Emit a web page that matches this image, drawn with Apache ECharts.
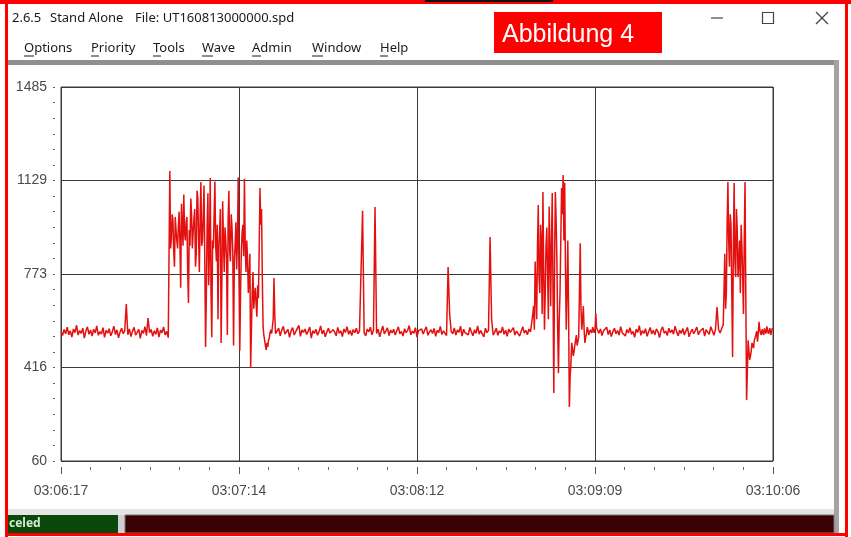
<!DOCTYPE html>
<html>
<head>
<meta charset="utf-8">
<title>Stand Alone - UT160813000000.spd</title>
<script src="https://cdn.jsdelivr.net/npm/echarts@6/dist/echarts.min.js"></script>
<style>
  html, body { margin: 0; padding: 0; background: #ffffff; }
  #main { width: 851px; height: 537px; }
</style>
</head>
<body>
<div id="main"></div>
<script>
// Recording window: 03:06:17 .. 03:10:06
const startSeconds = 3 * 3600 + 6 * 60 + 17;
const endSeconds = 3 * 3600 + 10 * 60 + 6;

const xTickLabels = ['03:06:17', '03:07:14', '03:08:12', '03:09:09', '03:10:06'];
const yTickLabels = ['60', '416', '773', '1129', '1485'];
const yMin = 60;
const yMax = 1485;

// Quiet stretches are logged every 0.5 s, bursts every 0.25 s
const quiet1 = [
  552, 538, 561, 545, 570, 541, 556, 532, 563, 549, 578, 540, 557, 546, 566, 528, 555, 571, 543, 559,
  536, 562, 548, 575, 539, 553, 544, 568, 531, 558, 547, 564, 537, 552, 574, 542, 560, 529, 551, 566,
  545, 557, 658, 541, 563, 534, 555, 569, 540, 550, 562, 527, 558, 546, 572, 538, 605, 549, 561, 535,
  556, 543, 567, 532, 559, 548, 571, 540, 554, 530
];
const burst1 = [
  1165, 870, 905, 1000, 980, 860, 800, 990, 940, 900, 870, 960, 1010, 890, 720, 1040, 960, 880, 1075, 930,
  900, 970, 990, 780, 662, 940, 880, 1060, 1000, 870, 930, 980, 1020, 800, 850, 1090, 1062, 910, 780, 990,
  1123, 880, 900, 1000, 1110, 820, 494, 700, 960, 1080, 730, 860, 1138, 700, 532, 900, 870, 1000, 1125, 880,
  820, 960, 600, 880, 930, 1020, 510, 760, 1050, 900, 780, 950, 900, 830, 540, 980, 1090, 860, 820, 1000,
  950, 860, 500, 820, 880, 970, 790, 900, 1140, 760, 480, 700, 860, 930, 960, 840, 1135, 880, 780, 900,
  830, 700, 760, 850, 414, 560, 700, 780, 640, 690, 720, 660, 610, 730, 680, 880, 1100, 960, 1020, 760,
  570, 540, 520, 500, 483, 510, 495, 520, 530, 550, 560, 545, 540, 600, 757, 620, 545
];
const quiet2 = [
  552, 566, 537, 558, 573, 544, 549, 561, 531, 556, 568, 540, 553, 547, 577, 535, 559, 550, 563, 542,
  555, 570, 528, 557, 546, 562, 539, 553, 575, 544, 558, 533, 551, 566, 548, 541, 560, 552, 537, 569,
  547, 556, 534, 563, 550, 572, 543, 557, 538, 561, 549, 566, 545, 555, 560, 1013, 548, 537, 563, 552,
  570, 541, 558, 1028, 546, 562, 533, 555, 574, 544, 551, 567, 538, 559, 548, 562, 540, 556, 571, 545,
  553, 536, 564, 549, 558, 576, 541, 555, 547, 568, 532, 557, 550, 563, 544, 559, 571, 539, 552, 560,
  546, 565, 535, 558, 549, 573, 542, 556, 561, 538, 799, 620, 553, 545, 567, 540, 559, 550, 574, 536,
  562, 548, 555, 541, 569, 552, 537, 560, 546, 575, 543, 557, 551, 533, 566, 549, 558, 913, 600, 540,
  551, 566, 539, 556, 548, 571, 543, 558, 535, 563, 550, 545, 568, 540, 555, 561, 536, 553, 572, 547,
  558, 541, 563, 552
];
const burst2 = [
  597, 620, 650, 560, 820, 700, 600, 880, 1035, 760, 700, 960, 900, 620, 1085, 800, 560, 700, 880, 950,
  780, 600, 1030, 880, 650, 900, 1081, 700, 319, 820, 1085, 980, 820, 560, 395, 600, 700, 900, 1100, 1000,
  1150, 900, 1120, 800, 560, 700, 900, 640, 266, 380, 430, 510, 490, 460, 475, 500, 520, 540, 500, 515,
  530, 700, 890, 640, 560, 600, 650, 560, 510, 530, 545, 570, 560, 540, 535, 560, 555, 548, 570, 560,
  548, 560, 624, 570, 560
];
const quiet3 = [
  547, 563, 538, 556, 551, 570, 542, 559, 534, 553, 566, 545, 557, 540, 572, 549, 555, 536, 561, 548,
  568, 543, 554, 531, 562, 550, 576, 539, 557, 546, 564, 535, 552, 569, 544, 558, 541, 563, 553, 530,
  559, 571, 547, 555, 538, 566, 549, 560, 543, 574, 552, 537, 558, 546, 565, 540, 556, 569, 533, 551,
  562, 545, 557, 570, 541, 554, 548, 566, 536, 560, 551, 543, 572, 555, 539, 561,
  647, 560, 548, 565, 580
];
const burst3 = [
  850, 640, 700, 960, 1123, 900, 800, 1000, 960, 700, 456, 880, 1119, 820, 760, 1020, 940, 760, 820, 900,
  700, 960, 880, 760, 620, 900, 1123, 700, 292, 400, 520, 480, 445, 460, 480, 510, 505, 490, 520, 530,
  540, 555, 515, 545, 590, 560, 548, 540, 562, 550, 540, 565, 558, 545, 573, 560, 545, 555, 566, 540,
  551, 565, 560
];

// Each section: seconds after the window start, sample step, values
const sections = [
  { start: 0, step: 0.5, values: quiet1 },
  { start: 35, step: 0.25, values: burst1 },
  { start: 69.5, step: 0.5, values: quiet2 },
  { start: 151.5, step: 0.25, values: burst2 },
  { start: 173, step: 0.5, values: quiet3 },
  { start: 213.5, step: 0.25, values: burst3 }
];

const seriesData = [];
sections.forEach(s => {
  s.values.forEach((v, i) => seriesData.push([startSeconds + s.start + i * s.step, v]));
});

function clock(sec) {
  const s = Math.round(sec);
  const pad = n => String(n).padStart(2, '0');
  return pad(Math.floor(s / 3600)) + ':' + pad(Math.floor(s / 60) % 60) + ':' + pad(s % 60);
}

const uiFont = '"Noto Sans", "Open Sans", sans-serif';
const axisFont = '"Liberation Sans", Arial, sans-serif';

// Window frame, title bar, menu and status bar
const menuItems = [
  { text: 'Options', x: 24, ul: 10 },
  { text: 'Priority', x: 91, ul: 8 },
  { text: 'Tools', x: 153, ul: 8 },
  { text: 'Wave', x: 202, ul: 11 },
  { text: 'Admin', x: 252, ul: 9 },
  { text: 'Window', x: 312, ul: 11 },
  { text: 'Help', x: 380, ul: 8 }
];

const chrome = [
  // title bar text
  { type: 'text', x: 12, y: 18, z: 10, style: { text: '2.6.5', font: '13px ' + uiFont, fill: '#1a1a1a', verticalAlign: 'middle' } },
  { type: 'text', x: 50, y: 18, z: 10, style: { text: 'Stand Alone', font: '13px ' + uiFont, fill: '#1a1a1a', verticalAlign: 'middle' } },
  { type: 'text', x: 135, y: 18, z: 10, style: { text: 'File: UT160813000000.spd', font: '13px ' + uiFont, fill: '#1a1a1a', verticalAlign: 'middle' } },
  // window buttons
  { type: 'line', z: 10, shape: { x1: 711, y1: 18, x2: 723, y2: 18 }, style: { stroke: '#444', lineWidth: 1.2 } },
  { type: 'rect', z: 10, shape: { x: 762.5, y: 12.5, width: 11, height: 11 }, style: { fill: 'none', stroke: '#444', lineWidth: 1.2 } },
  { type: 'line', z: 10, shape: { x1: 816, y1: 12, x2: 828, y2: 24 }, style: { stroke: '#444', lineWidth: 1.2 } },
  { type: 'line', z: 10, shape: { x1: 828, y1: 12, x2: 816, y2: 24 }, style: { stroke: '#444', lineWidth: 1.2 } },
  // caption box
  { type: 'rect', z: 10, shape: { x: 494, y: 12, width: 168, height: 41 }, style: { fill: '#ff0000' } },
  { type: 'text', x: 502, y: 35, z: 11, style: { text: 'Abbildung 4', font: '25px ' + axisFont, fill: '#ffffff', verticalAlign: 'middle' } },
  // sunken panel edges
  { type: 'rect', z: 5, shape: { x: 7, y: 60, width: 832, height: 5 }, style: { fill: '#8f8f8f' } },
  { type: 'rect', z: 5, shape: { x: 834, y: 60, width: 5, height: 473 }, style: { fill: '#a3a3a3' } },
  { type: 'rect', z: 5, shape: { x: 7, y: 509, width: 827, height: 6 }, style: { fill: '#e4e4e4' } },
  // status bar
  { type: 'rect', z: 6, shape: { x: 8, y: 515, width: 110, height: 18 }, style: { fill: '#0a470a' } },
  { type: 'text', x: 9, y: 524, z: 7, style: { text: 'celed', font: 'bold 12px ' + uiFont, fill: '#d6ecd0', verticalAlign: 'middle' } },
  { type: 'rect', z: 6, shape: { x: 118, y: 515, width: 7, height: 18 }, style: { fill: '#d0d0d0' } },
  { type: 'rect', z: 6, shape: { x: 125, y: 515, width: 709, height: 18 }, style: { fill: '#3a0202', stroke: '#777', lineWidth: 1 } },
  // outer red frame
  { type: 'rect', z: 20, shape: { x: 0, y: 0, width: 851, height: 4 }, style: { fill: '#ff0000' } },
  { type: 'rect', z: 21, shape: { x: 425, y: 0, width: 128, height: 2 }, style: { fill: '#111' } },
  { type: 'rect', z: 20, shape: { x: 5, y: 0, width: 3, height: 537 }, style: { fill: '#ff0000' } },
  { type: 'rect', z: 20, shape: { x: 845, y: 0, width: 3, height: 537 }, style: { fill: '#ff0000' } },
  { type: 'rect', z: 20, shape: { x: 5, y: 533, width: 843, height: 3 }, style: { fill: '#ff0000' } }
];

menuItems.forEach(m => {
  chrome.push({ type: 'text', x: m.x, y: 48, z: 10, style: { text: m.text, font: '13px ' + uiFont, fill: '#1a1a1a', verticalAlign: 'middle' } });
  chrome.push({ type: 'line', z: 10, shape: { x1: m.x, y1: 56, x2: m.x + m.ul, y2: 56 }, style: { stroke: '#1a1a1a', lineWidth: 1 } });
});

const chart = echarts.init(document.getElementById('main'), null, { renderer: 'canvas' });

chart.setOption({
  animation: false,
  backgroundColor: '#ffffff',
  grid: {
    left: 61, top: 87, right: 78, bottom: 76,
    show: true, borderColor: '#3a3a3a', borderWidth: 1, backgroundColor: '#ffffff'
  },
  xAxis: {
    type: 'value',
    min: startSeconds,
    max: endSeconds,
    interval: (endSeconds - startSeconds) / 4,
    offset: 6,
    axisLine: { show: false },
    axisTick: { show: true, length: 7, lineStyle: { color: '#555', width: 1 } },
    minorTick: { show: true, splitNumber: 6, length: 3, lineStyle: { color: '#666', width: 1 } },
    splitLine: { show: true, lineStyle: { color: '#3a3a3a', width: 1 } },
    axisLabel: {
      margin: 17,
      fontFamily: axisFont,
      fontSize: 14,
      color: '#4a4a4a',
      formatter: (v, i) => xTickLabels[i] !== undefined ? xTickLabels[i] : clock(v)
    }
  },
  yAxis: {
    type: 'value',
    min: yMin,
    max: yMax,
    interval: (yMax - yMin) / 4,
    offset: 6,
    axisLine: { show: false },
    axisTick: { show: true, length: 2, lineStyle: { color: '#666', width: 1 } },
    minorTick: { show: true, splitNumber: 6, length: 2, lineStyle: { color: '#666', width: 1 } },
    splitLine: { show: true, lineStyle: { color: '#3a3a3a', width: 1 } },
    axisLabel: {
      margin: 8,
      fontFamily: axisFont,
      fontSize: 14,
      color: '#4a4a4a',
      formatter: (v, i) => yTickLabels[i] !== undefined ? yTickLabels[i] : String(Math.round(v))
    }
  },
  series: [{
    type: 'line',
    data: seriesData,
    showSymbol: false,
    symbol: 'none',
    lineStyle: { color: '#e41010', width: 1.5 },
    z: 3
  }],
  graphic: chrome
});
</script>
</body>
</html>
